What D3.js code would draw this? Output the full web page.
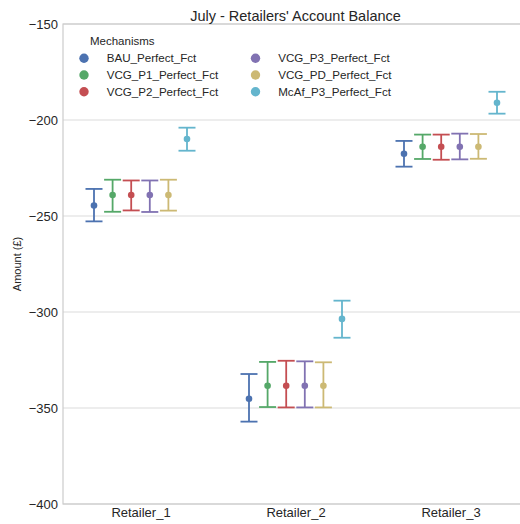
<!DOCTYPE html>
<html>
<head>
<meta charset="utf-8">
<script src="https://cdn.jsdelivr.net/npm/d3@7"></script>
<style>
  body { margin: 0; background: #fff; }
  svg { font-family: Arial, "Liberation Sans", sans-serif; display: block; }
</style>
</head>
<body>
<div id="chart"></div>
<script>
(function() {

    var retailers = ["Retailer_1", "Retailer_2", "Retailer_3"];
    var mechanisms = ["BAU_Perfect_Fct", "VCG_P1_Perfect_Fct", "VCG_P2_Perfect_Fct",
                      "VCG_P3_Perfect_Fct", "VCG_PD_Perfect_Fct", "McAf_P3_Perfect_Fct"];
    var colors = ["#4C72B0", "#55A868", "#C44E52", "#8172B2", "#CCB974", "#64B5CD"];
    var yTicks = [-400, -350, -300, -250, -200, -150];

    // mean / lower / upper per mechanism, one value per retailer
    var means = [
        [-244.5, -345.2, -217.6],
        [-239.1, -338.4, -213.9],
        [-239.1, -338.4, -213.9],
        [-239.1, -338.4, -213.9],
        [-239.1, -338.4, -213.9],
        [-209.9, -303.6, -191.0]
    ];
    var lows = [
        [-252.8, -357.1, -224.3],
        [-247.8, -349.5, -220.3],
        [-247.1, -349.7, -220.7],
        [-247.9, -349.7, -220.5],
        [-247.2, -349.7, -220.2],
        [-216.0, -313.4, -196.7]
    ];
    var highs = [
        [-235.9, -332.3, -210.9],
        [-231.1, -326.0, -207.6],
        [-231.5, -325.4, -207.6],
        [-231.5, -325.7, -207.1],
        [-231.1, -326.2, -207.3],
        [-204.0, -294.1, -185.3]
    ];

    var width = 520, height = 524;
    var left = 63, right = 528, top = 24, bottom = 504;

    var svg = d3.select("#chart")
        .append("svg")
        .attr("width", width)
        .attr("height", height);

    var x = d3.scalePoint().domain(retailers).range([left, right]).padding(0.5);
    var dodge = d3.scalePoint().domain(mechanisms).range([-46.5, 46.5]);
    var y = d3.scaleLinear().domain([-400, -150]).range([bottom, top]);

    // grid
    svg.append("g")
        .selectAll("line")
        .data(yTicks)
        .enter()
        .append("line")
        .attr("x1", left).attr("x2", right)
        .attr("y1", function(d) { return y(d); })
        .attr("y2", function(d) { return y(d); })
        .attr("stroke", "#dcdcdc")
        .attr("stroke-width", 1.2);

    // frame
    svg.append("rect")
        .attr("x", left).attr("y", top)
        .attr("width", right - left).attr("height", bottom - top)
        .attr("fill", "none")
        .attr("stroke", "#cccccc")
        .attr("stroke-width", 1.2);

    // y axis
    var yAxis = svg.append("g")
        .attr("transform", "translate(" + left + ",0)")
        .call(d3.axisLeft(y).tickValues(yTicks).tickSize(0).tickPadding(5)
            .tickFormat(function(d) { return "\u2212" + Math.abs(d); }));
    yAxis.select(".domain").remove();
    yAxis.selectAll("text")
        .attr("fill", "#262626")
        .style("font-size", "13px");

    // x axis
    var xAxis = svg.append("g")
        .attr("transform", "translate(0," + bottom + ")")
        .call(d3.axisBottom(x).tickSize(0).tickPadding(4));
    xAxis.select(".domain").remove();
    xAxis.selectAll("text")
        .attr("fill", "#262626")
        .style("font-size", "13px");

    svg.append("text")
        .attr("transform", "translate(21," + ((top + bottom) / 2) + ") rotate(-90)")
        .attr("text-anchor", "middle")
        .attr("fill", "#262626")
        .style("font-size", "11px")
        .text("Amount (\u00a3)");

    svg.append("text")
        .attr("x", (left + right) / 2)
        .attr("y", 21)
        .attr("text-anchor", "middle")
        .attr("fill", "#262626")
        .style("font-size", "14.5px")
        .text("July - Retailers' Account Balance");

    // error bars and points
    mechanisms.forEach(function(m, i) {
        var g = svg.append("g").attr("stroke", colors[i]).attr("fill", colors[i]);
        var pts = retailers.map(function(r, j) {
            return { cx: x(r) + dodge(m), mean: means[i][j], lo: lows[i][j], hi: highs[i][j] };
        });
        var node = g.selectAll(".pt").data(pts).enter().append("g").attr("class", "pt");
        node.append("line")
            .attr("x1", function(d) { return d.cx; })
            .attr("x2", function(d) { return d.cx; })
            .attr("y1", function(d) { return y(d.lo); })
            .attr("y2", function(d) { return y(d.hi); })
            .attr("stroke-width", 1.8);
        [["lo"], ["hi"]].forEach(function(k) {
            node.append("line")
                .attr("x1", function(d) { return d.cx - 8.5; })
                .attr("x2", function(d) { return d.cx + 8.5; })
                .attr("y1", function(d) { return y(d[k[0]]); })
                .attr("y2", function(d) { return y(d[k[0]]); })
                .attr("stroke-width", 1.8);
        });
        node.append("circle")
            .attr("cx", function(d) { return d.cx; })
            .attr("cy", function(d) { return y(d.mean); })
            .attr("r", 3.3)
            .attr("stroke", "none");
    });

    // legend
    var legend = svg.append("g");
    legend.append("text")
        .attr("x", 90).attr("y", 45)
        .attr("fill", "#262626")
        .style("font-size", "11.5px")
        .text("Mechanisms");
    var item = legend.selectAll(".item")
        .data(mechanisms)
        .enter()
        .append("g")
        .attr("class", "item")
        .attr("transform", function(d, i) {
            var col = Math.floor(i / 3), row = i % 3;
            return "translate(" + (84 + col * 171.5) + "," + (58.3 + row * 16.7) + ")";
        });
    item.append("circle")
        .attr("r", 4.7)
        .attr("fill", function(d, i) { return colors[i]; });
    item.append("text")
        .attr("x", 22.7)
        .attr("dy", "0.35em")
        .attr("fill", "#262626")
        .style("font-size", "11.6px")
        .text(function(d) { return d; });

})();
</script>
</body>
</html>
